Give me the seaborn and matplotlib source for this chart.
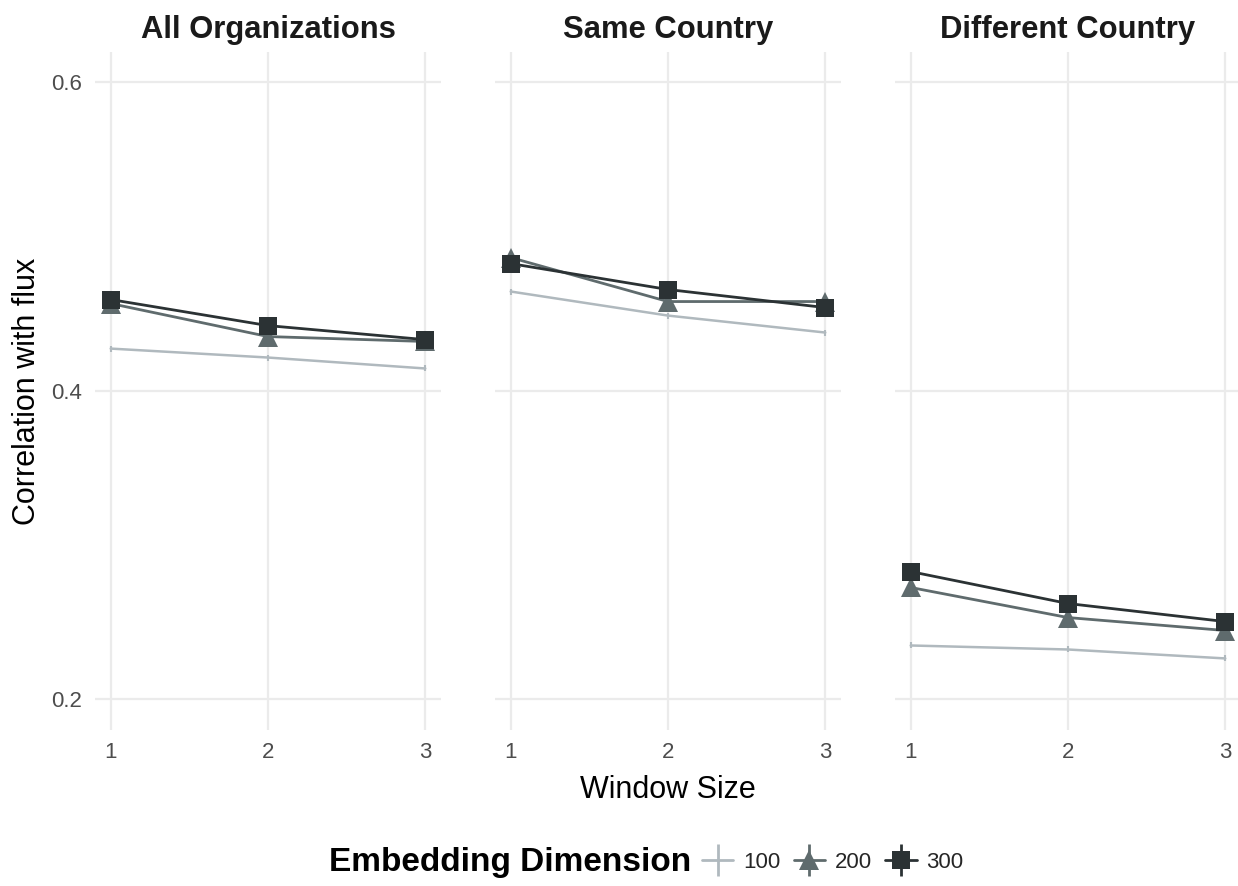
import numpy as np
import pandas as pd
import matplotlib
matplotlib.use("Agg")
import matplotlib.pyplot as plt
import seaborn as sns
from matplotlib.lines import Line2D
from matplotlib.legend_handler import HandlerTuple
from matplotlib.offsetbox import HPacker

panels = ["All Organizations", "Same Country", "Different Country"]
window = [1, 2, 3]
dims = ["100", "200", "300"]
vals = {
    "All Organizations": {
        "100": [0.4272, 0.4214, 0.4143],
        "200": [0.4564, 0.4350, 0.4318],
        "300": [0.4590, 0.4421, 0.4330],
    },
    "Same Country": {
        "100": [0.4642, 0.4486, 0.4376],
        "200": [0.4862, 0.4577, 0.4577],
        "300": [0.4823, 0.4655, 0.4538],
    },
    "Different Country": {
        "100": [0.2347, 0.2321, 0.2263],
        "200": [0.2723, 0.2528, 0.2444],
        "300": [0.2826, 0.2619, 0.2502],
    },
}
colors = {"100": "#b0b9be", "200": "#5f6b6d", "300": "#2b3234"}
markers = {"100": "|", "200": "^", "300": "s"}
msizes = {"100": 5, "200": 15, "300": 13}

rows = []
for p in panels:
    for d in dims:
        for w, v in zip(window, vals[p][d]):
            rows.append(dict(panel=p, dim=d, window=w, corr=v))
df = pd.DataFrame(rows)

sns.set_style("white")
plt.rcParams["font.family"] = ["Liberation Sans", "DejaVu Sans"]

fig = plt.figure(figsize=(12.38, 8.86), dpi=100)
W, H = 1238, 886
lefts = [95, 495, 895]
pw = 346
top, bottom = 52, 730
for i, p in enumerate(panels):
    ax = fig.add_axes([lefts[i] / W, 1 - bottom / H, pw / W, (bottom - top) / H])
    sub = df[df.panel == p]
    for d in dims:
        s = sub[sub.dim == d]
        sns.lineplot(data=s, x="window", y="corr", ax=ax, color=colors[d],
                     linewidth=2.0 if d != "100" else 1.8,
                     marker=markers[d], markersize=msizes[d],
                     markeredgewidth=1.5 if d == "100" else 0,
                     markeredgecolor=colors[d], legend=False, zorder=3)
    ax.set_xlim(0.9, 3.1)
    ax.set_ylim(0.1799, 0.6195)
    ax.set_xticks([1, 2, 3])
    ax.set_yticks([0.2, 0.4, 0.6])
    ax.grid(True, color="#ebebeb", linewidth=1.6)
    ax.set_axisbelow(True)
    for sp in ax.spines.values():
        sp.set_visible(False)
    ax.tick_params(axis="both", length=0, labelsize=16, labelcolor="#4d4d4d")
    ax.tick_params(axis="x", pad=9)
    ax.tick_params(axis="y", pad=9)
    if i == 0:
        ax.set_yticklabels(["0.2", "0.4", "0.6"])
        ax.set_ylabel("Correlation with flux", fontsize=22, color="black", labelpad=7)
    else:
        ax.set_yticklabels([])
        ax.set_ylabel("")
    if i == 1:
        ax.set_xlabel("Window Size", fontsize=22, color="black", labelpad=8)
    else:
        ax.set_xlabel("")
    ax.set_title(p, fontsize=22.3, fontweight="bold", color="#1a1a1a", pad=10)

handles = []
for d in dims:
    main = Line2D([0], [0], color=colors[d], linewidth=2,
                  marker=(None if d == "100" else markers[d]),
                  markersize=msizes[d], markeredgewidth=0)
    vbar = Line2D([0], [0], color=colors[d], linestyle="none", marker="|",
                  markersize=23, markeredgewidth=2, markeredgecolor=colors[d])
    handles.append((vbar, main))
leg = fig.legend(handles, dims, loc="center", bbox_to_anchor=(0.522, 1 - 862 / H),
                 ncol=3, frameon=False, fontsize=16, title="Embedding Dimension",
                 handlelength=1.4, columnspacing=0.6, handletextpad=0.45,
                 handler_map={tuple: HandlerTuple(ndivide=1, pad=0)})
leg.get_title().set_fontweight("bold")
leg.get_title().set_fontsize(24)
leg.get_title().set_color("black")
box = leg._legend_box
box.__class__ = HPacker
box.sep = 8
box.align = "center"

fig.savefig("out.png", dpi=100)
